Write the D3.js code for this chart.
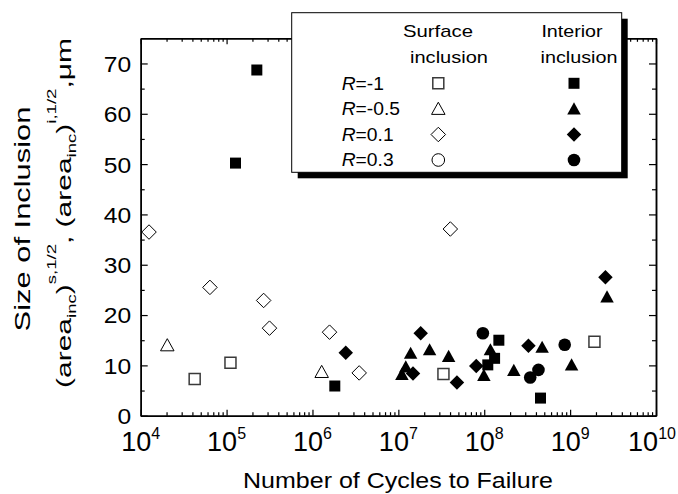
<!DOCTYPE html>
<html>
<head>
<meta charset="utf-8">
<script src="https://cdn.jsdelivr.net/npm/d3@7"></script>
<style>
  body { margin: 0; background: #fff; }
  svg text { font-family: "Liberation Sans", Arial, Helvetica, sans-serif; fill: #000; }
</style>
</head>
<body>
<svg id="chart" width="678" height="494"></svg>
<script>
// Inclusion size vs. fatigue life, [cycles to failure, size in µm]
// Surface-initiated failures (open markers)
const surfaceRm1  = [[4.25e4, 7.3], [1.11e5, 10.5], [3.35e7, 8.3], [1.92e9, 14.7]];
const surfaceRm05 = [[2.04e4, 14.1], [1.28e6, 8.8]];
const surfaceR01  = [[1.25e4, 36.5], [6.4e4, 25.5], [2.7e5, 22.9], [3.16e5, 17.4],
                     [1.58e6, 16.6], [3.5e6, 8.5], [4.03e7, 37.1]];
const surfaceR03  = [];
// Interior-initiated failures (filled markers)
const interiorRm1  = [[1.27e5, 50.2], [2.25e5, 68.7], [1.82e6, 5.9], [1.10e8, 10.1],
                      [1.32e8, 11.4], [1.48e8, 15.0], [4.52e8, 3.5]];
const interiorRm05 = [[1.10e7, 8.3], [1.22e7, 9.8], [1.39e7, 12.5], [2.31e7, 13.2],
                      [3.85e7, 11.9], [9.9e7, 8.1], [1.18e8, 13.2], [2.21e8, 9.1],
                      [4.72e8, 13.7], [1.04e9, 10.2], [2.69e9, 23.7]];
const interiorR01  = [[2.44e6, 12.5], [1.48e7, 8.4], [1.82e7, 16.4], [4.81e7, 6.6],
                      [8.07e7, 9.9], [3.27e8, 13.9], [2.58e9, 27.5]];
const interiorR03  = [[9.64e7, 16.4], [3.43e8, 7.6], [4.28e8, 9.1], [8.65e8, 14.1]];

// Axis ticks and legend text
const yMajorTicks = [0, 10, 20, 30, 40, 50, 60, 70];
const yMinorTicks = [5, 15, 25, 35, 45, 55, 65];
const xExponents  = [4, 5, 6, 7, 8, 9, 10];
const stressRatios = ["-1", "-0.5", "0.1", "0.3"];
const shapes = ["square", "triangle", "diamond", "circle"];

const svg = d3.select("#chart");
const plot = { left: 140.7, right: 656, top: 38.3, bottom: 415.7 };

const x = d3.scaleLog().domain([1e4, 1e10]).range([plot.left, plot.right]);
const y = d3.scaleLinear().domain([0, 75]).range([plot.bottom, plot.top]);

// ---- marker shapes -------------------------------------------------------
const triangleType = {
  draw(ctx, size) {
    const w = Math.sqrt(size), h = w * 0.9;
    ctx.moveTo(0, -h / 2); ctx.lineTo(w / 2, h / 2); ctx.lineTo(-w / 2, h / 2); ctx.closePath();
  }
};
const diamondType = {
  draw(ctx, size) {
    const r = Math.sqrt(size) / 2;
    ctx.moveTo(0, -r); ctx.lineTo(r, 0); ctx.lineTo(0, r); ctx.lineTo(-r, 0); ctx.closePath();
  }
};
const markerDefs = {
  square:   { type: d3.symbolSquare, size: 11 * 11 },
  triangle: { type: triangleType,   size: 13.5 * 13.5 },
  diamond:  { type: diamondType,    size: 14.5 * 14.5 },
  circle:   { type: d3.symbolCircle, size: Math.PI * 6.3 * 6.3 }
};
function markerPath(shape) {
  const m = markerDefs[shape];
  return d3.symbol().type(m.type).size(m.size)();
}
function styleMarker(sel, shape, filled) {
  if (filled) {
    sel.attr("fill", "#000").attr("stroke", "none");
  } else {
    sel.attr("fill", "#fff")
       .attr("stroke", shape === "square" ? "#3a3a3a" : "#000")
       .attr("stroke-width", shape === "square" ? 1.5 : 1);
  }
}

// ---- text helper: stretch a label along its reading direction -------------
function stretchedText(parent, px, py, str, opts) {
  const g = parent.append("g");
  const t = g.append("text")
    .attr("font-size", opts.size)
    .attr("text-anchor", opts.anchor || "middle")
    .text(str);
  const w0 = t.node().getComputedTextLength();
  const s = opts.width ? opts.width / w0 : (opts.scale || 1);
  const rot = opts.rotate ? ` rotate(${opts.rotate})` : "";
  g.attr("transform", `translate(${px},${py})${rot} scale(${s},1)`);
  return t;
}

// ---- axes ----------------------------------------------------------------
function styleAxis(g) {
  g.attr("font-size", null).attr("font-family", null);
  g.select(".domain").attr("stroke", "#000").attr("stroke-width", 1.5);
  g.selectAll(".tick line").attr("stroke", "#000").attr("stroke-width", 1.2);
}

const xMinor = [];
for (let e = 4; e < 10; e++) for (let k = 2; k <= 9; k++) xMinor.push(k * Math.pow(10, e));
const xMajor = xExponents.map(e => Math.pow(10, e));

// left
svg.append("g").attr("transform", `translate(${plot.left},0)`)
  .call(d3.axisLeft(y).tickValues(yMajorTicks).tickSizeInner(-7).tickSizeOuter(0).tickPadding(9)
        .tickFormat(d3.format("d")))
  .call(styleAxis)
  .call(g => g.selectAll(".tick text")
      .attr("x", 0).attr("dy", "0.36em").attr("font-size", 22)
      .attr("transform", "translate(-9.5,0) scale(1.12,1)"));
svg.append("g").attr("transform", `translate(${plot.left},0)`)
  .call(d3.axisLeft(y).tickValues(yMinorTicks).tickSizeInner(-4).tickSizeOuter(0).tickFormat(""))
  .call(styleAxis);
// right
svg.append("g").attr("transform", `translate(${plot.right},0)`)
  .call(d3.axisRight(y).tickValues(yMajorTicks).tickSizeInner(-7).tickSizeOuter(0).tickFormat(""))
  .call(styleAxis);
svg.append("g").attr("transform", `translate(${plot.right},0)`)
  .call(d3.axisRight(y).tickValues(yMinorTicks).tickSizeInner(-4).tickSizeOuter(0).tickFormat(""))
  .call(styleAxis);
// bottom
svg.append("g").attr("transform", `translate(0,${plot.bottom})`)
  .call(d3.axisBottom(x).tickValues(xMajor).tickSizeInner(-6).tickSizeOuter(0).tickFormat(""))
  .call(styleAxis);
svg.append("g").attr("transform", `translate(0,${plot.bottom})`)
  .call(d3.axisBottom(x).tickValues(xMinor).tickSizeInner(-3.5).tickSizeOuter(0).tickFormat(""))
  .call(styleAxis);
// top
svg.append("g").attr("transform", `translate(0,${plot.top})`)
  .call(d3.axisTop(x).tickValues(xMajor).tickSizeInner(-6).tickSizeOuter(0).tickFormat(""))
  .call(styleAxis);
svg.append("g").attr("transform", `translate(0,${plot.top})`)
  .call(d3.axisTop(x).tickValues(xMinor).tickSizeInner(-3.5).tickSizeOuter(0).tickFormat(""))
  .call(styleAxis);

// decade labels 10^n (the last one nudged so it stays inside the page)
const xLabels = svg.append("g").selectAll("text").data(xExponents).join("text")
  .attr("x", e => x(Math.pow(10, e)) - (e === 10 ? 4 : 0))
  .attr("y", 450.7)
  .attr("text-anchor", "middle");
xLabels.append("tspan").attr("font-size", 27).text("10");
xLabels.append("tspan").attr("font-size", 16).attr("dy", -12).text(e => e);

// axis titles
stretchedText(svg, 398, 488, "Number of Cycles to Failure", { size: 22, width: 310 });
stretchedText(svg, 30, 219, "Size of Inclusion", { size: 22.5, width: 225, rotate: -90 });

// second title line with sub/superscripts
{
  const g = svg.append("g");
  const t = g.append("text").attr("font-size", 21).attr("text-anchor", "middle");
  const parts = [
    ["(area", 21, 0], ["inc", 13, 5], [")", 21, -5], ["s,1/2", 13, -15],
    [", (area", 21, 15], ["inc", 13, 5], [")", 21, -5], ["i,1/2", 13, -15], [",μm", 21, 15]
  ];
  parts.forEach(([s, fs, dy]) => t.append("tspan").attr("font-size", fs).attr("dy", dy).text(s));
  const w0 = t.node().getComputedTextLength();
  g.attr("transform", `translate(71,213) rotate(-90) scale(${350 / w0},1)`);
}

// ---- data markers ---------------------------------------------------------
const series = [
  { data: surfaceRm1,  shape: "square",   filled: false },
  { data: surfaceRm05, shape: "triangle", filled: false },
  { data: surfaceR01,  shape: "diamond",  filled: false },
  { data: surfaceR03,  shape: "circle",   filled: false },
  { data: interiorRm1,  shape: "square",   filled: true },
  { data: interiorRm05, shape: "triangle", filled: true },
  { data: interiorR01,  shape: "diamond",  filled: true },
  { data: interiorR03,  shape: "circle",   filled: true }
];
const marks = svg.append("g");
series.forEach(s => {
  marks.append("g").selectAll("path").data(s.data).join("path")
    .attr("d", markerPath(s.shape))
    .attr("transform", d => `translate(${x(d[0])},${y(d[1])})`)
    .call(sel => styleMarker(sel, s.shape, s.filled));
});

// ---- legend ----------------------------------------------------------------
const lg = svg.append("g");
const box = { x: 291.7, y: 12.7, w: 330, h: 159.6 };
lg.append("rect").attr("x", box.x + 6).attr("y", box.y + 6).attr("width", box.w).attr("height", box.h)
  .attr("fill", "#000");
lg.append("rect").attr("x", box.x).attr("y", box.y).attr("width", box.w).attr("height", box.h)
  .attr("fill", "#fff").attr("stroke", "#000").attr("stroke-width", 1);

stretchedText(lg, 438, 36.7, "Surface", { size: 17, width: 70 });
stretchedText(lg, 449, 63.3, "inclusion", { size: 17, width: 78 });
stretchedText(lg, 572, 36.7, "Interior", { size: 17, width: 61.3 });
stretchedText(lg, 579, 63.3, "inclusion", { size: 17, width: 77 });

const rowY = [83.3, 108.3, 134.5, 160];
stressRatios.forEach((r, i) => {
  const g = lg.append("g").attr("transform", `translate(341.7,${rowY[i] + 6.3}) scale(1.07,1)`);
  const t = g.append("text").attr("font-size", 18);
  t.append("tspan").attr("font-style", "italic").text("R");
  t.append("tspan").text("=" + r);
  lg.append("path").attr("d", markerPath(shapes[i]))
    .attr("transform", `translate(438.3,${rowY[i]})`)
    .call(sel => styleMarker(sel, shapes[i], false));
  lg.append("path").attr("d", markerPath(shapes[i]))
    .attr("transform", `translate(574,${rowY[i]})`)
    .call(sel => styleMarker(sel, shapes[i], true));
});
</script>
</body>
</html>
